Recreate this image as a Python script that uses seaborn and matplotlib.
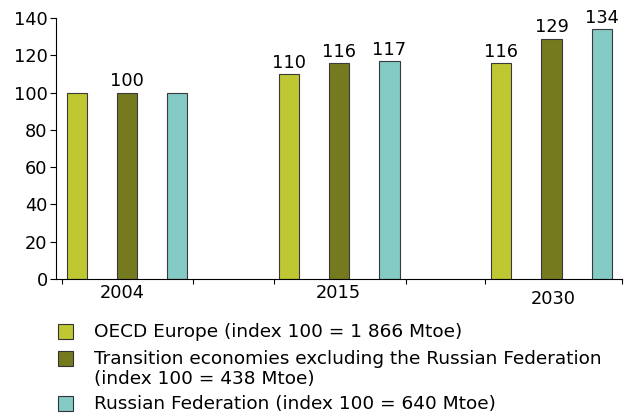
import matplotlib
matplotlib.use("Agg")
import matplotlib.pyplot as plt
from matplotlib.patches import Rectangle
import seaborn as sns
import pandas as pd

# Primary energy demand index by region (2004 = 100)
years = ["2004", "2015", "2030"]
regions = [
    "OECD Europe (index 100 = 1 866 Mtoe)",
    "Transition economies excluding the Russian Federation\n(index 100 = 438 Mtoe)",
    "Russian Federation (index 100 = 640 Mtoe)",
]
oecd_europe = [100, 110, 116]
transition = [100, 116, 129]
russia = [100, 117, 134]
colors = ["#BFC832", "#767A1F", "#84CAC5"]

series = [oecd_europe, transition, russia]
df = pd.DataFrame(
    [(y, r, v) for r, vals in zip(regions, series) for y, v in zip(years, vals)],
    columns=["year", "region", "index"],
)

sns.set_theme(style="white")
plt.rcParams["font.family"] = ["DejaVu Sans"]
FS = 12.8

W, H = 627, 416
fig = plt.figure(figsize=(W / 100, H / 100), dpi=100)
ax = fig.add_axes([56 / W, 1 - 279 / H, (622 - 56) / W, (279 - 18) / H])

sns.barplot(
    data=df, x="year", y="index", hue="region", hue_order=regions,
    order=years, palette=colors, saturation=1, width=0.71, gap=0.6,
    edgecolor="#3a3a3a", linewidth=0.8, legend=False, ax=ax,
)

# Value labels: in 2004 only the middle bar carries the common index value
for i, cont in enumerate(ax.containers):
    labels = []
    for j, v in enumerate(series[i]):
        if j == 0 and i != 1:
            labels.append("")
        else:
            labels.append(f"{v:g}")
    ax.bar_label(cont, labels=labels, padding=1.5, fontsize=FS, color="black")

ax.set_ylim(0, 140)
ax.set_yticks(range(0, 141, 20))
ax.set_xlim(-0.3345, 2.332)
ax.set_xlabel("")
ax.set_ylabel("")

for s in ["top", "right"]:
    ax.spines[s].set_visible(False)
for s in ["left", "bottom"]:
    ax.spines[s].set_color("black")
    ax.spines[s].set_linewidth(0.8)

ax.tick_params(axis="y", direction="out", length=4, width=0.8, color="black",
               pad=2, labelsize=FS, left=True, labelcolor="black")

# Category labels drawn without tick marks; boundary ticks drawn as minor ticks
ax.set_xticks(range(len(years)))
ax.set_xticklabels([])
ax.tick_params(axis="x", which="major", length=0)
ax.set_xticks([-0.306, 0.311, 0.693, 1.314, 1.687, 2.33], minor=True)
ax.tick_params(axis="x", which="minor", direction="out", length=3.5,
               width=0.8, color="black", bottom=True)

label_offsets = [(-5, -13.5), (-1, -13.5), (2, -19.5)]
for i, (yr, (dx, dy)) in enumerate(zip(years, label_offsets)):
    ax.annotate(yr, xy=(i, 0), xycoords=("data", "data"),
                xytext=(dx * 0.72, dy * 0.72), textcoords="offset points",
                ha="center", va="center", fontsize=FS, color="black")

# Legend drawn below the chart
rows = [(331, [337]), (358.5, [364, 384]), (403, [409])]
lab_lines = [r.split("\n") for r in regions]
for (cy, baselines), col, lines in zip(rows, colors, lab_lines):
    fig.patches.append(Rectangle(((57.5) / W, 1 - (cy + 7.5) / H), 15 / W, 15 / H,
                                 transform=fig.transFigure, facecolor=col,
                                 edgecolor="#333333", linewidth=0.8))
    for bl, line in zip(baselines, lines):
        fig.text(94 / W, 1 - bl / H, line, ha="left", va="baseline",
                 fontsize=13.3, color="black")

fig.savefig("out.png", dpi=100)
